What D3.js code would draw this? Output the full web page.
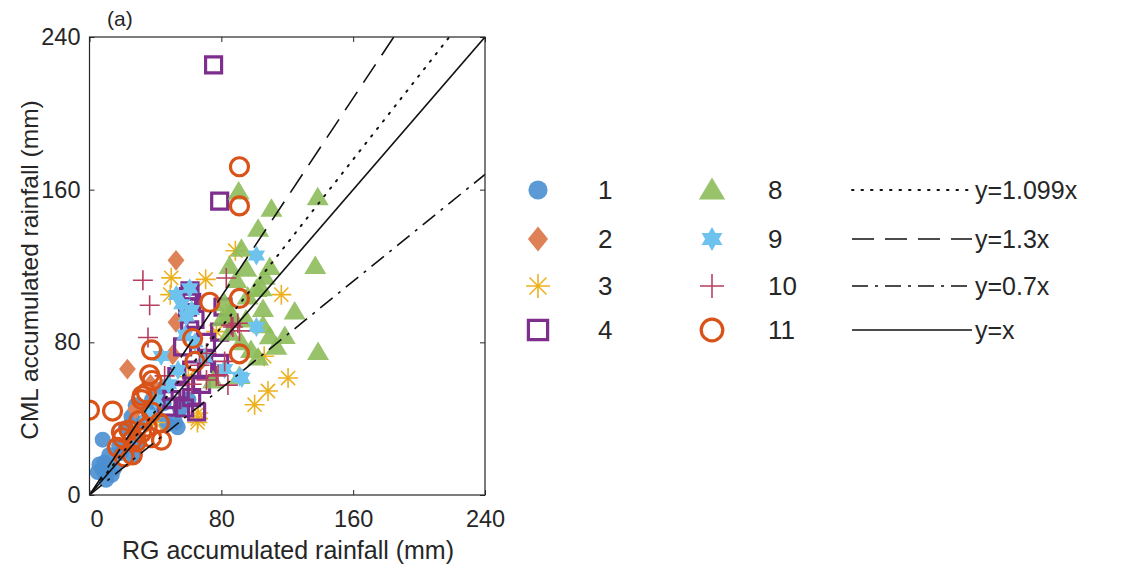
<!DOCTYPE html>
<html>
<head>
<meta charset="utf-8">
<script src="https://cdn.jsdelivr.net/npm/d3@7"></script>
<style>
  body { margin: 0; background: #fff; }
  svg text { font-family: "Liberation Sans", Arial, sans-serif; fill: #262626; }
</style>
</head>
<body>
<div id="chart"></div>
<script>
// values (mm)
var s1 = [[8,29],[9,17],[13.5,10.5],[8,13],[12,21],[6,16],[5,12],[10,8],[15,14],[19,22],[27,20],[25.5,41],[22,35],[30,28],[47,37],[52,38],[53.5,35.5],[35,45],[42,55],[38,50],[45,48],[40,42],[28,47],[33,38],[18,26],[55,45],[60,50]];
var s2 = [[52.5,123],[52.5,90.5],[50.5,73.5],[23,66],[37,58],[28,45]];
var s3 = [[88.5,128],[49.6,113.8],[70.5,113],[49,105],[116.4,105],[106,72.7],[120.5,61.3],[108.3,54.5],[100.2,47.3],[66,43],[65.5,38],[77,85.6],[65.8,40],[83,95],[60,62],[40,38]];
var s4 = [[75.3,225.4],[79,154],[60.8,86.5],[59.5,98.5],[81,98.5],[79,85.4],[71,80],[79,69],[56.5,77.6],[62,65.5],[53,62],[71,65.5],[50,50],[62,51],[65,43.5],[57.7,45.6],[60,104],[64,92],[55,55],[68,58],[47,46],[61,107],[62,101]];
var s8 = [[90.5,159],[138.5,156],[110.4,150],[102.3,139.5],[92.2,129],[85,120],[95.2,118.5],[109.4,119.5],[137,120],[106.3,114.4],[101.3,108],[104.3,108.3],[89,112.7],[82,100.5],[105.3,97.5],[124.5,96.2],[85,94.5],[87,93.5],[109.4,83.2],[118.5,83.3],[113.4,77.7],[102.3,72],[138.7,75],[91,62.4],[80.8,92.6],[105.3,89],[96,104],[92,80],[98,76],[75,60],[85,85],[95,92]];
var s9 = [[101.3,125.5],[101.3,88],[52.7,104.8],[60.8,108.3],[91.1,62],[92.5,61.3],[53.7,65.5],[58.8,93.5],[43.5,72.8],[56,100],[62,97],[58,84],[64,80],[48,58],[70,72],[82,66],[35,42],[40,50]];
var s10 = [[32.4,112.5],[36.5,99.4],[35.5,82.5],[83,113.7],[71,74.3],[78,63],[71,60.3],[84,57.6],[86,89],[87,88],[91,86],[77,62.4],[66.8,68],[45.6,62.4],[90,90],[82,70],[62,58]];
var s11 = [[91,172],[91,151.5],[91,103],[91,74],[73,101],[62.6,82],[64,70],[37.7,76],[36.5,63],[38,60],[34.6,53.5],[0,44.5],[14,44],[32,52],[37.7,43.5],[30,39],[19.4,33],[24,34],[31.6,32.5],[42.5,37.7],[43.7,28.8],[21,20],[26,21],[17,25],[28.5,27.8],[37.7,30],[35,35.6],[31.6,50],[20,30],[26,29]];

var ticks = [0, 80, 160, 240];
var slopes = [1.099, 1.3, 0.7, 1];
var slopeLabels = ["y=1.099x", "y=1.3x", "y=0.7x", "y=x"];

var series = [
  {name: "1", data: s1, type: "circle", color: "#4a8fd0", fill: true},
  {name: "2", data: s2, type: "diamond", color: "#df8157", fill: true},
  {name: "3", data: s3, type: "asterisk", color: "#edb120", fill: false},
  {name: "4", data: s4, type: "square", color: "#7e2f8e", fill: false},
  {name: "8", data: s8, type: "triangle", color: "#8dbd5b", fill: true},
  {name: "9", data: s9, type: "hexagram", color: "#6ec3ee", fill: true},
  {name: "10", data: s10, type: "plus", color: "#b53e5e", fill: false},
  {name: "11", data: s11, type: "ocircle", color: "#d95319", fill: false}
];
var dashes = ["1.5,8", "22,11", "16,7,3,7", null];

var width = 1124, height = 568;
var svg = d3.select("#chart").append("svg")
    .attr("width", width)
    .attr("height", height);

var x = d3.scaleLinear().domain([0, 240]).range([89.5, 485]);
var y = d3.scaleLinear().domain([0, 240]).range([495, 37]);

// marker paths, s = half size
function marker(type, s) {
  if (type == "circle" || type == "ocircle") {
    return "M" + s + ",0A" + s + "," + s + " 0 1,1 " + (-s) + ",0A" + s + "," + s + " 0 1,1 " + s + ",0Z";
  }
  if (type == "diamond") {
    return "M0," + (-s * 1.3) + "L" + (s * 1.05) + ",0L0," + (s * 1.3) + "L" + (-s * 1.05) + ",0Z";
  }
  if (type == "square") {
    return "M" + (-s) + "," + (-s) + "H" + s + "V" + s + "H" + (-s) + "Z";
  }
  if (type == "triangle") {
    return "M0," + (-s * 1.05) + "L" + (s * 1.1) + "," + (s * 0.8) + "L" + (-s * 1.1) + "," + (s * 0.8) + "Z";
  }
  if (type == "plus") {
    return "M" + (-s) + ",0H" + s + "M0," + (-s) + "V" + s;
  }
  if (type == "asterisk") {
    var d = s * 0.7071;
    return "M" + (-s) + ",0H" + s + "M0," + (-s) + "V" + s +
      "M" + (-d) + "," + (-d) + "L" + d + "," + d + "M" + (-d) + "," + d + "L" + d + "," + (-d);
  }
  if (type == "hexagram") {
    var pts = [];
    for (var i = 0; i < 12; i++) {
      var r = i % 2 == 0 ? s : s / Math.sqrt(3);
      var a = -Math.PI / 2 + i * Math.PI / 6;
      pts.push([r * Math.cos(a), r * Math.sin(a)]);
    }
    return "M" + pts.join("L") + "Z";
  }
}
var sizes = {circle: 8, ocircle: 9, diamond: 8, square: 8, triangle: 10, plus: 10, asterisk: 10, hexagram: 10};

function styleMarker(sel, s) {
  sel.attr("d", marker(s.type, sizes[s.type]))
    .attr("fill", s.fill ? s.color : "none")
    .attr("fill-opacity", s.type == "circle" || s.type == "triangle" ? 0.9 : 1)
    .attr("stroke", s.fill ? "none" : s.color)
    .attr("stroke-width", s.type == "ocircle" || s.type == "square" ? 3.2 : 1.6);
}

// clip for plot area
svg.append("clipPath").attr("id", "clip")
  .append("rect")
  .attr("x", x(0)).attr("y", y(240))
  .attr("width", x(240) - x(0)).attr("height", y(0) - y(240));

var plot = svg.append("g").attr("clip-path", "url(#clip)");

series.forEach(function(s) {
  plot.append("g")
    .selectAll("path")
    .data(s.data)
    .enter()
    .append("path")
    .attr("transform", function(d) { return "translate(" + x(d[0]) + "," + y(d[1]) + ")"; })
    .call(styleMarker, s);
});

// reference lines
slopes.forEach(function(m, i) {
  var x2 = Math.min(240, 240 / m);
  plot.append("line")
    .attr("x1", x(0)).attr("y1", y(0))
    .attr("x2", x(x2)).attr("y2", y(m * x2))
    .attr("stroke", "#111")
    .attr("stroke-width", i == 0 ? 2 : 1.6)
    .attr("stroke-linecap", i == 0 ? "round" : "butt")
    .attr("stroke-dasharray", dashes[i]);
});

// box and axes
var axisColor = "#262626";
svg.append("rect")
  .attr("x", x(0)).attr("y", y(240))
  .attr("width", x(240) - x(0)).attr("height", y(0) - y(240))
  .attr("fill", "none").attr("stroke", axisColor).attr("stroke-width", 1.2);

var xAxis = svg.append("g")
  .attr("transform", "translate(0," + y(0) + ")")
  .call(d3.axisBottom(x).tickValues(ticks).tickSize(-5).tickPadding(15));
var yAxis = svg.append("g")
  .attr("transform", "translate(" + x(0) + ",0)")
  .call(d3.axisLeft(y).tickValues(ticks).tickSize(-5).tickPadding(9));
svg.append("g")
  .attr("transform", "translate(0," + y(240) + ")")
  .call(d3.axisTop(x).tickValues(ticks).tickSize(-5).tickFormat(""));
svg.append("g")
  .attr("transform", "translate(" + x(240) + ",0)")
  .call(d3.axisRight(y).tickValues(ticks).tickSize(-5).tickFormat(""));

svg.selectAll(".domain").remove();
svg.selectAll(".tick line").attr("stroke", axisColor);
svg.selectAll(".tick text").attr("font-size", 23.5).attr("fill", axisColor);
xAxis.selectAll(".tick text").filter(function(d) { return d == 0; }).attr("dx", 7);

svg.append("text")
  .attr("x", 288).attr("y", 559)
  .attr("text-anchor", "middle")
  .attr("font-size", 25)
  .text("RG accumulated rainfall (mm)");

svg.append("text")
  .attr("transform", "translate(38,270) rotate(-90)")
  .attr("text-anchor", "middle")
  .attr("font-size", 24.5)
  .text("CML accumulated rainfall (mm)");

svg.append("text")
  .attr("x", 107).attr("y", 26)
  .attr("font-size", 21)
  .text("(a)");

// legend
var rowsY = [190, 239, 286, 330];
var legend = svg.append("g");
series.forEach(function(s, i) {
  var col = Math.floor(i / 4), row = i % 4;
  var mx = col == 0 ? 538 : 712;
  var g = legend.append("g").attr("transform", "translate(" + mx + "," + rowsY[row] + ")");
  g.append("path").call(styleMarker, s)
    .attr("transform", "scale(1.2)")
    .attr("stroke-width", s.type == "ocircle" || s.type == "square" ? 2.7 : 1.3);
  g.append("text")
    .attr("x", col == 0 ? 60 : 56)
    .attr("y", 9)
    .attr("font-size", 26)
    .text(s.name);
});
slopes.forEach(function(m, i) {
  var g = legend.append("g").attr("transform", "translate(0," + rowsY[i] + ")");
  g.append("line")
    .attr("x1", 852).attr("x2", 972)
    .attr("stroke", "#111")
    .attr("stroke-width", i == 0 ? 2 : 1.6)
    .attr("stroke-linecap", i == 0 ? "round" : "butt")
    .attr("stroke-dasharray", dashes[i]);
  g.append("text")
    .attr("x", 975).attr("y", 9)
    .attr("font-size", 25)
    .text(slopeLabels[i]);
});
</script>
</body>
</html>
